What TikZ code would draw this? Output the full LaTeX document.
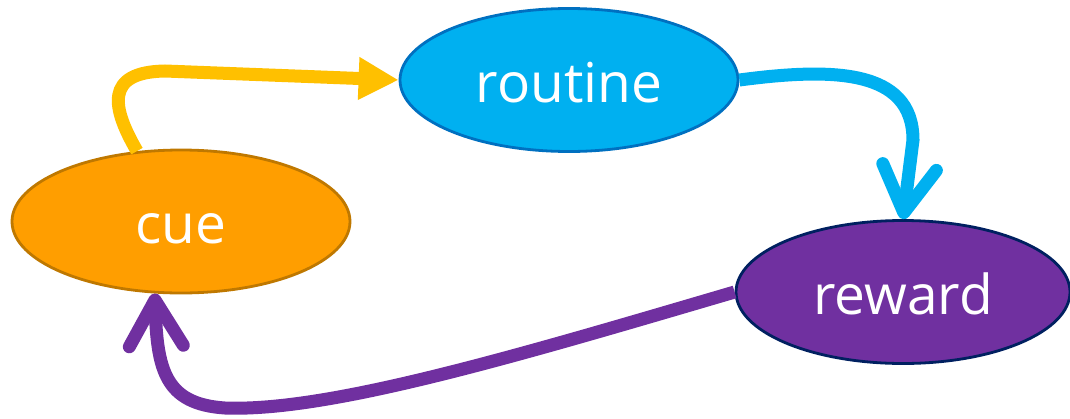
\documentclass[tikz,border=0pt]{standalone}
\usepackage{fontspec}
\newfontfamily\labfont{Open Sans}
\usetikzlibrary{shapes.geometric,arrows.meta}
\definecolor{cuefill}{HTML}{FF9E00}
\definecolor{cuedraw}{HTML}{BF7800}
\definecolor{routfill}{HTML}{00B0F0}
\definecolor{routdraw}{HTML}{0070C0}
\definecolor{rewfill}{HTML}{7030A0}
\definecolor{rewdraw}{HTML}{002060}
\definecolor{arryellow}{HTML}{FFC000}
\tikzset{
  stage/.style={ellipse, line width=2.8pt, inner sep=0pt, minimum width=338pt, minimum height=143pt,
    text=white, font=\labfont\fontsize{55}{64}\selectfont, text height=44pt, text depth=0pt},
  flow/.style={line width=13pt},
  barb/.style={-{Straight Barb[length=46pt,width=54pt,round]}},
}
\begin{document}
\begin{tikzpicture}[x=1pt,y=-1pt]
\useasboundingbox (0,0) rectangle (1070,418);
\node[stage, fill=cuefill, draw=cuedraw] (cue) at (181,221.5) {cue};
\node[stage, fill=routfill, draw=routdraw] (routine) at (569,80) {routine};
\node[stage, fill=rewfill, draw=rewdraw, minimum width=334pt] (reward) at (903,292) {reward};
% cue -> routine
\draw[flow, arryellow, -{Triangle[length=40pt,width=40pt]}]
  (cue.122) .. controls (112,108) and (104,72) .. (165,71) -- (routine.west);
% routine -> reward
\draw[flow, routfill, barb]
  (routine.east) .. controls (830,68) and (913,68) .. (913,140) -- (reward.north);
% reward -> cue
\draw[flow, rewfill, barb]
  (reward.west) .. controls (520,355) and (330,412) .. (225,408) .. controls (165,404) and (157,370) .. (cue.250);
\end{tikzpicture}
\end{document}
